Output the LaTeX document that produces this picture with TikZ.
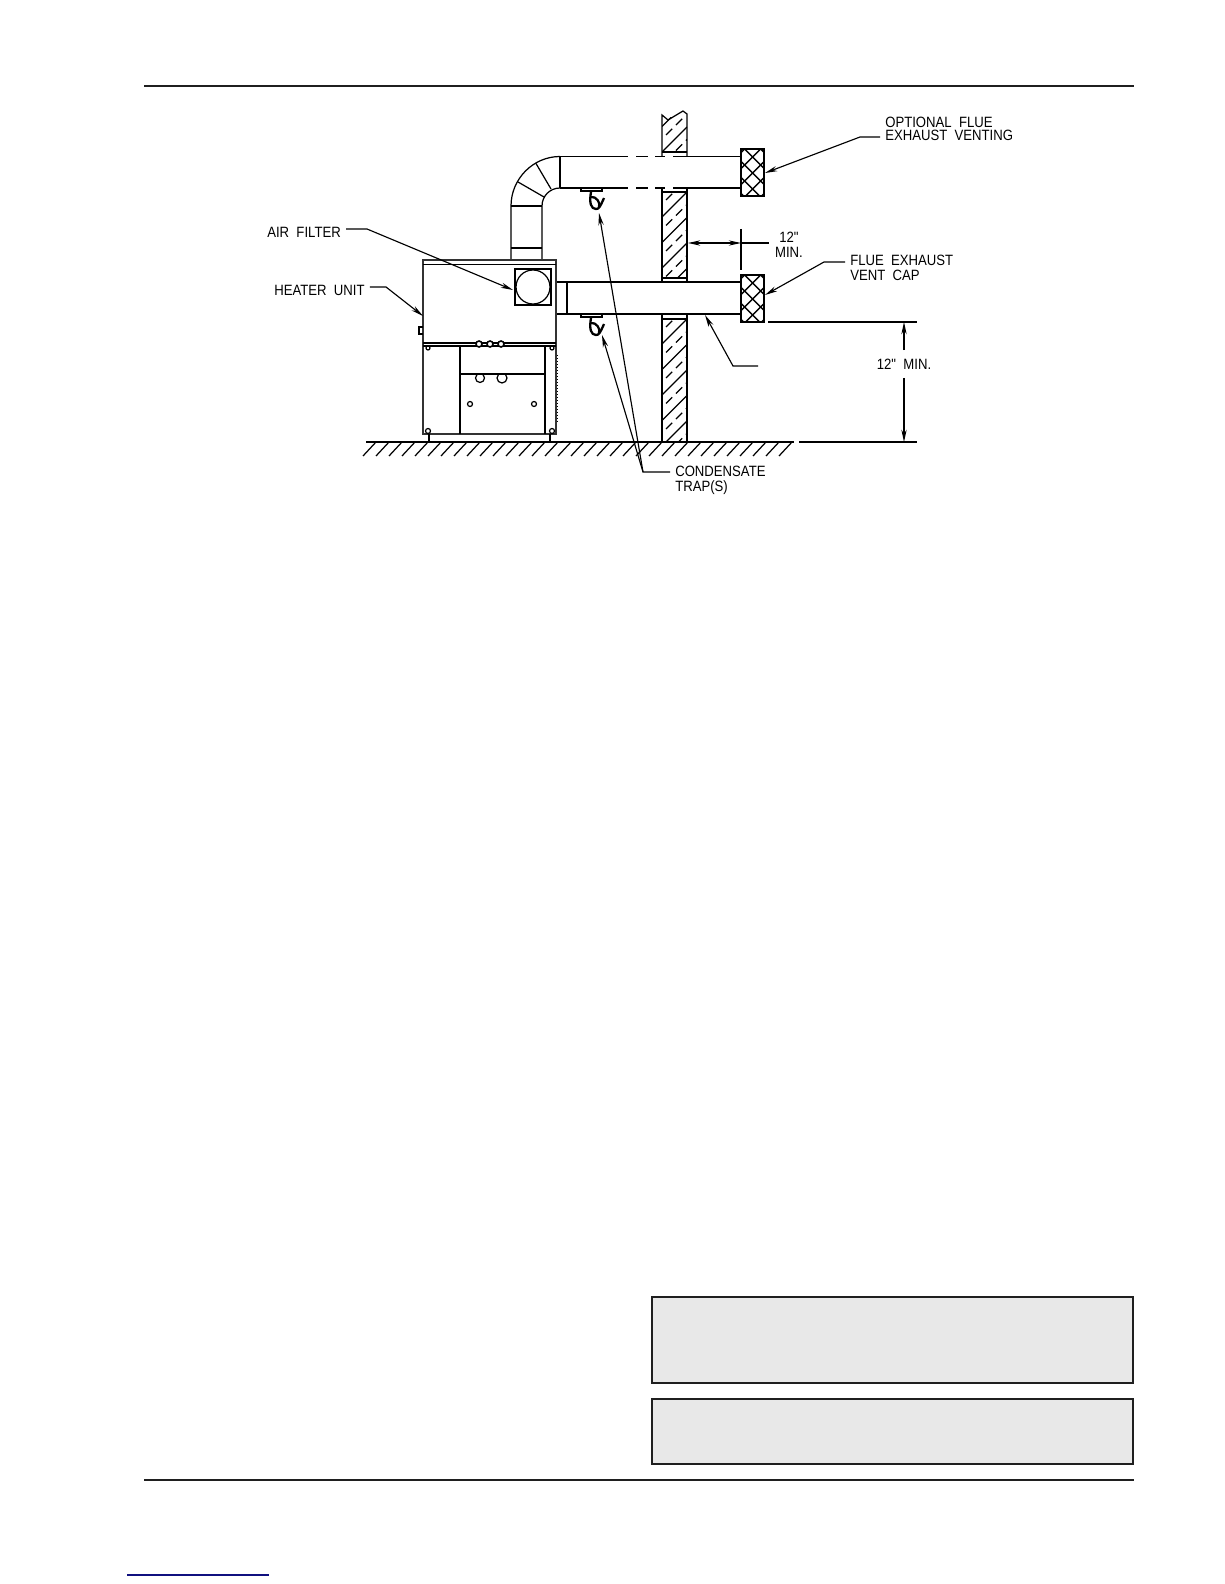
\documentclass[tikz,border=0pt]{standalone}
\usepackage{fontspec}
\usetikzlibrary{arrows.meta}
\newfontfamily\cadfont[FakeStretch=0.88,WordSpace=2]{Liberation Sans}
\definecolor{boxgray}{HTML}{E8E8E8}
\definecolor{linkblue}{HTML}{10107F}
\tikzset{
  part/.style={line width=0.7pt},
  unit/.style={line width=0.9pt,draw=black!80},
  leader/.style={line width=0.65pt},
  tipped/.style={leader,-{Stealth[length=7pt,width=3pt]}},
  both/.style={leader,{Stealth[length=7pt,width=3pt]}-{Stealth[length=7pt,width=3pt]}},
  rule/.style={line width=1.15pt,draw=black!88},
  notebox/.style={line width=1.15pt,draw=black!88,fill=boxgray},
  cadtext/.style={font=\cadfont\fontsize{8.5}{8.5}\selectfont,inner sep=0pt,outer xsep=3pt,anchor=west},
  dimtext/.style={font=\cadfont\fontsize{8.5}{8.5}\selectfont,inner sep=0pt,outer ysep=5pt}
}
\begin{document}
\begin{tikzpicture}[x=0.02cm,y=-0.02cm]
\useasboundingbox (0,0) rectangle (1224,1584);
% page rules and boxes
\draw[rule] (144,85.7) -- (1134,85.7);
\draw[rule] (144,1479.5) -- (1134,1479.5);
\draw[notebox] (652,1297) rectangle (1133,1382.7);
\draw[notebox] (652,1399) rectangle (1133,1463.7);
\draw[line width=0.9pt,draw=linkblue] (127,1575) -- (269,1575);
% ground
\draw[part] (366,442) -- (794,442);
\foreach \x in {376,389,...,793}
  \draw[part] (\x,442) -- (\x-13,456);
% wall
\foreach \ya/\yb/\yo in {118/152/152,192/278/217,320/442/344}{
  \begin{scope}
  \clip (662,\ya) rectangle (687,\yb);
  \foreach \k in {-5,...,5}{
    \draw[part] (662,\yo+25.5*\k) -- (687,\yo+25.5*\k-25);
    \draw[part,dash pattern=on 5pt off 3pt] (666,\yo+25.5*\k+8.5) -- (687,\yo+25.5*\k-12.5);
  }
  \end{scope}
}
\draw[part] (662,156.5) -- (662,115) -- (668,120) -- (683,111) -- (687,114) -- (687,156.5);
\draw[part] (662,152) -- (687,152);
\draw[part] (662,188) -- (662,282) (687,188) -- (687,282);
\draw[part] (662,192) -- (687,192) (662,278) -- (687,278);
\draw[part] (662,314) -- (662,442) (687,314) -- (687,442);
\draw[part] (662,319) -- (687,319);
% upper duct
\foreach \y in {156.5,188}{
  \draw[part] (560,\y) -- (628,\y);
  \draw[part] (636,\y) -- (648,\y);
  \draw[part] (655,\y) -- (665,\y);
  \draw[part] (673,\y) -- (741,\y);
}
\draw[part] (560,156.5) -- (560,188);
\draw[part] (511,260) -- (511,206) .. controls (511,179) and (533,156.5) .. (560,156.5);
\draw[part] (542,260) -- (542,206) .. controls (542,196) and (550,188) .. (560,188);
\draw[part] (511,206) -- (542,206);
\draw[part] (511,248) -- (542,248);
\draw[part] (536,163.5) -- (551,189);
\draw[part] (518,182) -- (544,197);
% lower duct
\draw[part] (556,282) -- (741,282);
\draw[part] (556,314) -- (741,314);
\draw[part] (567,282) -- (567,314);
% traps
\foreach \dy in {0,126}{
  \begin{scope}[shift={(0,\dy)}]
  \draw[part] (581,188) -- (581,191) -- (602,191) -- (602,188);
  \draw[line width=1.3pt] (591,192) .. controls (589,203) and (591,209) .. (596,209)
    .. controls (599,209) and (600,207) .. (604,198);
  \draw[line width=1.3pt] (591,197) .. controls (596,196) and (601,203) .. (599,207);
  \end{scope}
}
% vent caps
\foreach \cy in {149,275}{
  \begin{scope}[shift={(0,\cy)}]
  \begin{scope}
  \clip (741,0) rectangle (764,47);
  \foreach \k in {-4,...,4}{
    \draw[line width=0.8pt] (741,19.5+16*\k) -- (764,-3.5+16*\k);
    \draw[line width=0.8pt] (741,-3.5+16*\k) -- (764,19.5+16*\k);
  }
  \end{scope}
  \draw[line width=1.1pt] (741,0) rectangle (764,47);
  \end{scope}
}
% heater unit
\draw[unit] (423,434) -- (423,260) -- (556,260) -- (556,434) -- cycle;
\draw[part] (423,264.5) -- (556,264.5);
\draw[part] (423,343) -- (556,343);
\draw[part] (423,346) -- (556,346);
\draw[part] (460,346) -- (460,434);
\draw[part] (545,346) -- (545,434);
\draw[part] (460,374) -- (545,374);
\draw[part] (429,434) -- (429,442);
\draw[part] (550,434) -- (550,442);
\draw[part] (515,269) rectangle (551,305);
\draw[part] (533,287) circle (17);
\foreach \x in {479,490,501}
  \draw[line width=0.9pt,fill=white] (\x,344) circle (3);
\begin{scope}
\clip (470,374) rectangle (515,390);
\draw[part] (480,378) circle (4.5);
\draw[part] (502,378) circle (5);
\end{scope}
\draw[part] (470,404) circle (2.5);
\draw[part] (534,404) circle (2.5);
\draw[part] (428,348) circle (2);
\draw[part] (552,348) circle (2);
\draw[part] (428,431) circle (2.5);
\draw[part] (552,431) circle (2.5);
\draw[line width=1pt] (423,327) -- (419,327) -- (419,334) -- (423,334);
\draw[part,densely dotted] (557.5,355) -- (557.5,423);
% labels
\node[cadtext] (airlabel) at (262,232) {AIR FILTER};
\node[cadtext] (heaterlabel) at (269,290) {HEATER UNIT};
\node[cadtext] (optlabel) at (880,122) {OPTIONAL FLUE};
\node[cadtext] (exhlabel) at (880,135) {EXHAUST VENTING};
\node[cadtext] (fluelabel) at (845,260) {FLUE EXHAUST};
\node[cadtext] (ventlabel) at (845,275) {VENT CAP};
\node[cadtext] (condlabel) at (670,471) {CONDENSATE};
\node[cadtext] (traplabel) at (670,488) {TRAP(S)};
% leaders
\coordinate (airbend) at (367,229);
\coordinate (airtip) at (513,290);
\coordinate (heaterbend) at (386,287);
\coordinate (heatertip) at (423,316);
\coordinate (optbend) at (860,137);
\coordinate (opttip) at (765,173);
\coordinate (fluebend) at (824,262);
\coordinate (fluetip) at (765,295);
\coordinate (condbend) at (643,472);
\coordinate (traptipa) at (599,213);
\coordinate (traptipb) at (602,335);
\draw[tipped] (airlabel.east |- airbend) -- (airbend) -- (airtip);
\draw[tipped] (heaterlabel.east |- heaterbend) -- (heaterbend) -- (heatertip);
\draw[tipped] (exhlabel.west |- optbend) -- (optbend) -- (opttip);
\draw[tipped] (fluelabel.west |- fluebend) -- (fluebend) -- (fluetip);
\draw[tipped] (condlabel.west |- condbend) -- (condbend) -- (traptipa);
\draw[tipped] (condbend) -- (traptipb);
\coordinate (ductend) at (758,366);
\coordinate (ductbend) at (733,366);
\coordinate (ducttip) at (705,315);
\draw[tipped] (ductend) -- (ductbend) -- (ducttip);
% clearances
\coordinate (wallface) at (688,243);
\coordinate (captick) at (741,243);
\coordinate (tickend) at (769,243);
\draw[both] (wallface) -- (captick);
\draw[leader] (captick) -- (tickend);
\draw[leader] (741,229) -- (741,270);
\node[dimtext] (hdimtop) at (789,237) {12"};
\node[dimtext] (hdimmin) at (789,252) {MIN.};
\coordinate (capext) at (768,322);
\coordinate (capextend) at (917,322);
\coordinate (floorext) at (799,442);
\coordinate (floorextend) at (917,442);
\draw[leader] (capext) -- (capextend);
\draw[leader] (floorext) -- (floorextend);
\node[dimtext] (vdim) at (904,364) {12" MIN.};
\coordinate (vdimtop) at (904,322);
\coordinate (vdimbot) at (904,442);
\draw[tipped] (vdim.north) -- (vdimtop);
\draw[tipped] (vdim.south) -- (vdimbot);
\end{tikzpicture}
\end{document}
